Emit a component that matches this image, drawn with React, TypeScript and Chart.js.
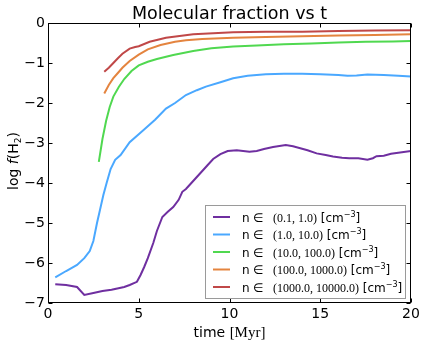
import React, { useEffect, useRef } from 'react';
import { Chart, registerables } from 'chart.js';

Chart.register(...registerables);

const rangeLabels = ['(0.1, 1.0)', '(1.0, 10.0)', '(10.0, 100.0)', '(100.0, 1000.0)', '(1000.0, 10000.0)'];
const seriesColors = ['#6f2fa0', '#4aa8ff', '#50d850', '#e4843f', '#c04848'];

const purpleT = [0.4, 1.0, 1.6, 2.0, 2.5, 3.0, 3.5, 4.2, 4.5, 4.9, 5.1, 5.3, 5.5, 5.8, 6.0, 6.3, 6.6, 6.9, 7.2, 7.4, 7.6, 7.8, 8.1, 8.4, 8.8, 9.1, 9.5, 9.9, 10.4, 11.1, 11.5, 11.9, 12.4, 13.1, 13.5, 13.9, 14.3, 14.8, 15.3, 15.7, 16.2, 16.6, 17.1, 17.6, 17.9, 18.1, 18.5, 18.9, 19.4, 20];
const purpleY = [-6.53, -6.55, -6.6, -6.8, -6.75, -6.7, -6.67, -6.6, -6.55, -6.47, -6.3, -6.1, -5.88, -5.5, -5.2, -4.85, -4.72, -4.6, -4.42, -4.22, -4.15, -4.05, -3.9, -3.75, -3.55, -3.4, -3.28, -3.2, -3.18, -3.22, -3.2, -3.15, -3.1, -3.05, -3.08, -3.13, -3.18, -3.26, -3.3, -3.34, -3.37, -3.38, -3.38, -3.42, -3.38, -3.33, -3.32, -3.27, -3.24, -3.2];

const blueT = [0.4, 1.0, 1.6, 2.0, 2.3, 2.5, 2.7, 2.86, 3.05, 3.23, 3.45, 3.7, 4.0, 4.5, 5.25, 5.9, 6.5, 7.0, 7.6, 8.2, 8.7, 9.5, 10.2, 11.0, 12.0, 13.0, 14.0, 15.0, 16.0, 16.5, 17.0, 17.6, 18.5, 19.3, 20];
const blueY = [-6.36, -6.2, -6.05, -5.88, -5.7, -5.45, -5.0, -4.68, -4.3, -4.0, -3.65, -3.42, -3.3, -2.98, -2.68, -2.42, -2.14, -2.0, -1.8, -1.68, -1.59, -1.48, -1.38, -1.32, -1.28, -1.27, -1.27, -1.28, -1.3, -1.32, -1.31, -1.29, -1.3, -1.32, -1.34];

const greenT = [2.8, 3.0, 3.2, 3.4, 3.6, 3.9, 4.2, 4.6, 5.0, 5.5, 6.0, 6.9, 8.0, 9.0, 10.2, 11.5, 13.0, 14.5, 16.0, 17.5, 19.0, 20];
const greenY = [-3.47, -2.9, -2.45, -2.1, -1.84, -1.6, -1.4, -1.2, -1.06, -0.97, -0.9, -0.8, -0.7, -0.63, -0.59, -0.56, -0.53, -0.51, -0.49, -0.47, -0.46, -0.45];

const orangeT = [3.1, 3.35, 3.6, 3.85, 4.1, 4.5, 5.0, 5.5, 6.2, 7.0, 7.6, 8.5, 10.2, 12.0, 14.0, 16.0, 18.0, 20];
const orangeY = [-1.76, -1.55, -1.38, -1.25, -1.12, -0.95, -0.79, -0.66, -0.55, -0.47, -0.43, -0.4, -0.37, -0.35, -0.33, -0.31, -0.3, -0.28];

const redT = [3.1, 3.35, 3.6, 3.85, 4.1, 4.5, 4.8, 5.0, 5.6, 6.5, 8.0, 10.2, 12.0, 14.0, 16.0, 18.0, 20];
const redY = [-1.22, -1.12, -1.0, -0.88, -0.77, -0.64, -0.6, -0.58, -0.47, -0.37, -0.28, -0.23, -0.22, -0.22, -0.2, -0.19, -0.18];

const seriesT = [purpleT, blueT, greenT, orangeT, redT];
const seriesY = [purpleY, blueY, greenY, orangeY, redY];

const xMin = 0, xMax = 20, xStep = 5;
const yMin = -7, yMax = 0, yStep = 1;

const titleText = 'Molecular fraction vs t';

const SANS = '"DejaVu Sans", sans-serif';
const SERIF = '"Liberation Serif", serif';

type Seg = { text: string; font: string; dy?: number };

function drawSegs(ctx: CanvasRenderingContext2D, segs: Seg[], x: number, y: number, align: 'left' | 'center') {
  let total = 0;
  for (const s of segs) { ctx.font = s.font; total += ctx.measureText(s.text).width; }
  let cx = align === 'center' ? x - total / 2 : x;
  ctx.textAlign = 'left';
  for (const s of segs) {
    ctx.font = s.font;
    ctx.fillText(s.text, cx, y + (s.dy || 0));
    cx += ctx.measureText(s.text).width;
  }
}

const decorPlugin = {
  id: 'decor',
  afterDraw(chart: any) {
    const { ctx, chartArea: a, scales } = chart;
    const xs = scales.x, ys = scales.y;
    ctx.save();
    ctx.fillStyle = '#000';
    ctx.strokeStyle = '#000';
    ctx.textBaseline = 'alphabetic';

    // Title
    ctx.font = `17.5px ${SANS}`;
    ctx.textAlign = 'center';
    ctx.fillText(titleText, (a.left + a.right) / 2, 19);

    // Frame
    const L = Math.round(a.left) + 0.5, R = Math.round(a.right) - 0.5;
    const T = Math.round(a.top) + 0.5, B = Math.round(a.bottom) - 0.5;
    ctx.lineWidth = 1;
    ctx.strokeRect(L, T, R - L, B - T);

    // Inward ticks on all sides
    const tl = 4;
    ctx.beginPath();
    for (const t of xs.ticks) {
      const px = Math.round(xs.getPixelForValue(t.value)) + 0.5;
      ctx.moveTo(px, B); ctx.lineTo(px, B - tl);
      ctx.moveTo(px, T); ctx.lineTo(px, T + tl);
    }
    for (const t of ys.ticks) {
      const py = Math.round(ys.getPixelForValue(t.value)) + 0.5;
      ctx.moveTo(L, py); ctx.lineTo(L + tl, py);
      ctx.moveTo(R, py); ctx.lineTo(R - tl, py);
    }
    ctx.stroke();

    // X axis label
    drawSegs(ctx, [
      { text: 'time ', font: `14px ${SANS}` },
      { text: '[Myr]', font: `15px ${SERIF}` },
    ], (a.left + a.right) / 2, 337, 'center');

    // Y axis label (rotated)
    ctx.save();
    ctx.translate(18, (a.top + a.bottom) / 2 - 2);
    ctx.rotate(-Math.PI / 2);
    drawSegs(ctx, [
      { text: 'log ', font: `14px ${SANS}` },
      { text: 'f', font: `italic 14px ${SANS}` },
      { text: '(H', font: `14px ${SANS}` },
      { text: '2', font: `9px ${SANS}`, dy: 3 },
      { text: ')', font: `14px ${SANS}` },
    ], 0, 0, 'center');
    ctx.restore();

    // Legend
    const lw = 200, lh = 93;
    const lx = Math.round(a.right) - 6 - lw, ly = Math.round(a.bottom) - 5 - lh;
    ctx.fillStyle = '#fff';
    ctx.fillRect(lx, ly, lw, lh);
    ctx.strokeStyle = '#9a9a9a';
    ctx.lineWidth = 1;
    ctx.strokeRect(lx + 0.5, ly + 0.5, lw, lh);
    chart.data.datasets.forEach((ds: any, i: number) => {
      const ry = ly + 12 + i * 17.5;
      ctx.strokeStyle = ds.borderColor;
      ctx.lineWidth = 2;
      ctx.beginPath();
      ctx.moveTo(lx + 8, ry); ctx.lineTo(lx + 25, ry);
      ctx.stroke();
      ctx.fillStyle = '#000';
      const tx = lx + 37, ty = ry + 4.5;
      ctx.font = `12px ${SANS}`;
      ctx.textAlign = 'left';
      ctx.fillText('n', tx, ty);
      ctx.fillText('\u2208', tx + 11, ty);
      drawSegs(ctx, [
        { text: ds.label, font: `12px ${SERIF}` },
        { text: ' [cm', font: `12px ${SANS}` },
        { text: '\u22123', font: `8px ${SANS}`, dy: -5 },
        { text: ']', font: `12px ${SANS}` },
      ], tx + 31, ty, 'left');
    });

    ctx.restore();
  },
};

const fmtMinus = (v: number | string) => {
  const n = Number(v);
  return n < 0 ? '\u2212' + Math.abs(n) : String(n);
};

export default function App() {
  const ref = useRef<HTMLCanvasElement | null>(null);
  useEffect(() => {
    if (!ref.current) return;
    const datasets = rangeLabels.map((lab, i) => ({
      label: lab,
      data: seriesT[i].map((t, j) => ({ x: t, y: seriesY[i][j] })),
      borderColor: seriesColors[i],
      backgroundColor: seriesColors[i],
      borderWidth: 2,
      pointRadius: 0,
      tension: 0,
      fill: false,
    }));
    const chart = new Chart(ref.current, {
      type: 'line',
      data: { datasets },
      options: {
        responsive: false,
        animation: false,
        layout: { padding: { left: 0, right: 14, top: 23, bottom: 0 } },
        plugins: { legend: { display: false }, title: { display: false }, tooltip: { enabled: false } },
        scales: {
          x: {
            type: 'linear',
            min: xMin, max: xMax,
            grid: { display: false, drawTicks: false },
            border: { display: false },
            ticks: {
              stepSize: xStep,
              color: '#000',
              font: { family: 'DejaVu Sans', size: 14 },
              padding: 3,
              maxRotation: 0,
              callback: (v: any) => fmtMinus(v),
            },
            afterFit: (s: any) => { s.height = 44; s.paddingLeft = 0; s.paddingRight = 0; },
          },
          y: {
            type: 'linear',
            min: yMin, max: yMax,
            grid: { display: false, drawTicks: false },
            border: { display: false },
            ticks: {
              stepSize: yStep,
              color: '#000',
              font: { family: 'DejaVu Sans', size: 14 },
              padding: 3,
              callback: (v: any) => fmtMinus(v),
            },
            afterFit: (s: any) => { s.width = 48; s.paddingTop = 0; s.paddingBottom = 0; },
          },
        },
      },
      plugins: [decorPlugin],
    } as any);
    return () => chart.destroy();
  }, []);
  return (
    <div style={{ position: 'absolute', left: 0, top: 0, width: 425, height: 347, background: '#fff' }}>
      <canvas ref={ref} width={425} height={347} />
    </div>
  );
}
